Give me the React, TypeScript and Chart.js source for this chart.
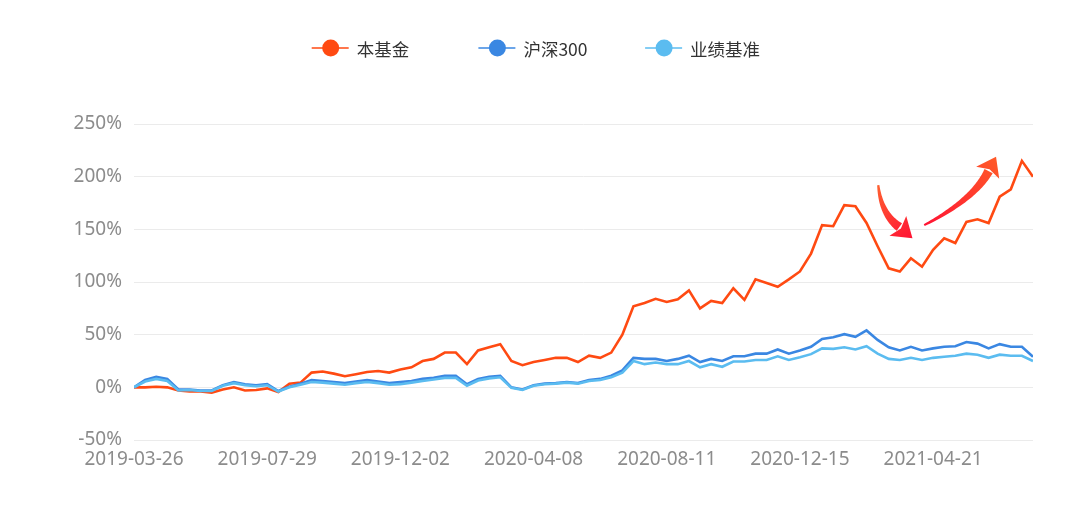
import React, { useEffect, useRef } from 'react';
import { Chart, registerables } from 'chart.js';

Chart.register(...registerables);

const seriesNames = ['本基金', '沪深300', '业绩基准'];
const seriesColors = ['#FF4A12', '#3A87E2', '#5BBCF0'];

const xTickLabels = ['2019-03-26', '2019-07-29', '2019-12-02', '2020-04-08', '2020-08-11', '2020-12-15', '2021-04-21'];
const xTickStep = 12;
const xLastIndex = 81;

const yMin = -50;
const yMax = 250;
const yStep = 50;

const fundValues = [
  0, 0, 0.5, 0, -3, -4, -4, -5, -2, 0,
  -3, -2.5, -1, -4.5, 3.5, 4.5, 14, 15, 13, 10.5,
  12.5, 14.5, 15.5, 14, 17, 19, 25, 27, 33, 33,
  22, 35, 38, 41, 25, 21, 24, 26, 28, 28,
  24, 30, 28, 33, 50, 77, 80, 84, 81, 83.5,
  92, 75, 82, 80, 94, 83, 102.5, 99, 95.5, 102.5,
  110, 127, 154, 153, 173, 172, 156, 134, 113, 110,
  122.5, 114.5, 130.5, 141.5, 137, 157, 159.5, 156, 181, 188,
  215, 200,
];

const csi300Values = [
  0, 7, 10, 8, -2, -2, -3, -3, 2, 5,
  3, 2, 3, -3.5, 0.5, 3.5, 7, 6, 5, 4,
  5.5, 7, 5.5, 4, 5, 6, 8, 9, 11, 11,
  3, 8, 10, 11, 0, -2, 2, 3.5, 4, 5,
  4, 7, 8, 11, 16, 28, 27, 27, 25, 27,
  30, 24, 27, 25, 29.5, 29.5, 32, 32, 36, 32,
  35, 38.5, 46, 47.5, 50.5, 48, 54, 45, 38, 35,
  38.5, 35, 37, 38.5, 39, 43, 41.5, 37, 41, 38.5,
  38.5, 29,
];

const benchmarkValues = [
  0, 5.5, 8, 6, -3, -2.5, -3.5, -3.5, 1.5, 4,
  2, 1, 2, -4, 0, 2.5, 5, 4.5, 3.5, 2.5,
  4, 5, 4, 2.5, 3, 4.5, 6, 7.5, 9, 9,
  1.5, 6.5, 8.5, 9.5, -0.5, -2.5, 1.5, 3, 3.5, 4.5,
  3.5, 6, 7, 9.5, 14, 25, 22, 23.5, 22, 22,
  25, 19, 22, 19.5, 24.5, 24.5, 26, 26, 29.5, 26,
  28.5, 31.5, 37, 36.5, 38, 36, 39, 32, 27, 26,
  28, 26, 28, 29, 30, 32, 31, 28, 31, 30,
  30, 25,
];

// Decorative arrows in data space: [tail, control, head-base, tip] as [index, percent]
const arrowDown = [[67.06, 192], [67.3, 164.5], [68.96, 152.1], [70.14, 141.6]];
const arrowUp = [[71.2, 154], [75.7, 178.6], [77.0, 205.3], [77.67, 218.9]];

const seriesValues = [fundValues, csi300Values, benchmarkValues];

function drawArrow(ctx: CanvasRenderingContext2D, chart: any, pts: number[][], colA: string, colB: string) {
  const xs = chart.scales.x;
  const ys = chart.scales.y;
  const P = pts.map((p) => [xs.getPixelForValue(p[0]), ys.getPixelForValue(p[1])]);
  const [T, C, E, Tip] = P;
  const n = 40;
  const left: number[][] = [];
  const right: number[][] = [];
  const w0 = 1.1;
  const w1 = 4.6;
  for (let i = 0; i <= n; i++) {
    const t = i / n;
    const mt = 1 - t;
    const x = mt * mt * T[0] + 2 * mt * t * C[0] + t * t * E[0];
    const y = mt * mt * T[1] + 2 * mt * t * C[1] + t * t * E[1];
    let dx = 2 * mt * (C[0] - T[0]) + 2 * t * (E[0] - C[0]);
    let dy = 2 * mt * (C[1] - T[1]) + 2 * t * (E[1] - C[1]);
    const len = Math.hypot(dx, dy) || 1;
    dx /= len;
    dy /= len;
    const w = w0 + (w1 - w0) * t;
    left.push([x - dy * w, y + dx * w]);
    right.push([x + dy * w, y - dx * w]);
  }
  const grad = ctx.createLinearGradient(T[0], T[1], Tip[0], Tip[1]);
  grad.addColorStop(0, colA);
  grad.addColorStop(1, colB);
  ctx.save();
  ctx.fillStyle = grad;
  ctx.beginPath();
  ctx.moveTo(left[0][0], left[0][1]);
  for (const p of left) ctx.lineTo(p[0], p[1]);
  for (let i = right.length - 1; i >= 0; i--) ctx.lineTo(right[i][0], right[i][1]);
  ctx.closePath();
  ctx.fill();
  // head
  let hx = Tip[0] - E[0];
  let hy = Tip[1] - E[1];
  const hl = Math.hypot(hx, hy) || 1;
  hx /= hl;
  hy /= hl;
  const hw = 13;
  ctx.beginPath();
  ctx.moveTo(E[0] - hy * hw - hx * 2, E[1] + hx * hw - hy * 2);
  ctx.lineTo(Tip[0], Tip[1]);
  ctx.lineTo(E[0] + hy * hw - hx * 2, E[1] - hx * hw - hy * 2);
  ctx.lineTo(E[0] + hx * 2, E[1] + hy * 2);
  ctx.closePath();
  ctx.fill();
  ctx.restore();
}

const arrowPlugin = {
  id: 'arrowPlugin',
  afterDatasetsDraw(chart: any) {
    const ctx = chart.ctx;
    drawArrow(ctx, chart, arrowDown, '#FF6030', '#FF1434');
    drawArrow(ctx, chart, arrowUp, '#FF1434', '#FF5A28');
  },
};

const legendPlugin = {
  id: 'customLegend',
  afterDraw(chart: any) {
    const ctx = chart.ctx;
    const cy = 48;
    const startX = chart.width / 2 - 228.3;
    const spacing = 166.7;
    ctx.save();
    seriesNames.forEach((name, i) => {
      const x0 = startX + i * spacing;
      const color = seriesColors[i];
      ctx.globalAlpha = 0.75;
      ctx.strokeStyle = color;
      ctx.lineWidth = 2;
      ctx.beginPath();
      ctx.moveTo(x0, cy);
      ctx.lineTo(x0 + 37, cy);
      ctx.stroke();
      ctx.globalAlpha = 1;
      ctx.fillStyle = color;
      ctx.beginPath();
      ctx.arc(x0 + 19, cy, 8.5, 0, Math.PI * 2);
      ctx.fill();
      ctx.fillStyle = '#333333';
      ctx.font = '17.5px "Noto Sans CJK SC", "Noto Sans", sans-serif';
      ctx.textBaseline = 'middle';
      ctx.textAlign = 'left';
      ctx.fillText(name, x0 + 45, cy + 1);
    });
    ctx.restore();
  },
};

export default function App() {
  const canvasRef = useRef<HTMLCanvasElement | null>(null);

  useEffect(() => {
    document.body.style.margin = '0';
    const canvas = canvasRef.current;
    if (!canvas) return;
    const indices = fundValues.map((_, i) => i);
    const datasets = seriesNames.map((name, s) => ({
      label: name,
      data: seriesValues[s].map((v, i) => ({ x: indices[i], y: v })),
      borderColor: seriesColors[s],
      backgroundColor: seriesColors[s],
      borderWidth: 2.6,
      pointRadius: 0,
      tension: 0,
      fill: false,
      order: 3 - s,
    }));
    const tickFont = { family: '"Noto Sans", sans-serif', size: 19, lineHeight: 1.2 };
    const chart = new Chart(canvas, {
      type: 'line',
      data: { datasets },
      plugins: [arrowPlugin, legendPlugin],
      options: {
        animation: false,
        responsive: false,
        maintainAspectRatio: false,
        devicePixelRatio: 1,
        layout: { padding: { top: 124, right: 47, bottom: 0, left: 0 } },
        plugins: {
          legend: { display: false },
          tooltip: { enabled: false },
          title: { display: false },
        },
        scales: {
          x: {
            type: 'linear',
            min: 0,
            max: xLastIndex,
            grid: { display: false, drawTicks: false },
            border: { display: false },
            ticks: {
              stepSize: xTickStep,
              includeBounds: false,
              autoSkip: false,
              maxRotation: 0,
              padding: 8,
              color: '#8c8c8c',
              font: tickFont,
              callback: (v: any) => {
                const k = Number(v) / xTickStep;
                return Number.isInteger(k) && xTickLabels[k] ? xTickLabels[k] : '';
              },
            },
            afterFit: (scale: any) => {
              scale.height = 89;
            },
          },
          y: {
            type: 'linear',
            min: yMin,
            max: yMax,
            grid: { color: '#ebebeb', lineWidth: 1, drawTicks: false },
            border: { display: false },
            ticks: {
              stepSize: yStep,
              padding: 12,
              color: '#8c8c8c',
              font: tickFont,
              callback: (v: any) => `${v}%`,
            },
            afterFit: (scale: any) => {
              scale.width = 134;
            },
          },
        },
      },
    });
    return () => chart.destroy();
  }, []);

  return (
    <div style={{ width: 1080, height: 529, background: '#ffffff' }}>
      <canvas ref={canvasRef} width={1080} height={529} style={{ display: 'block' }} />
    </div>
  );
}
